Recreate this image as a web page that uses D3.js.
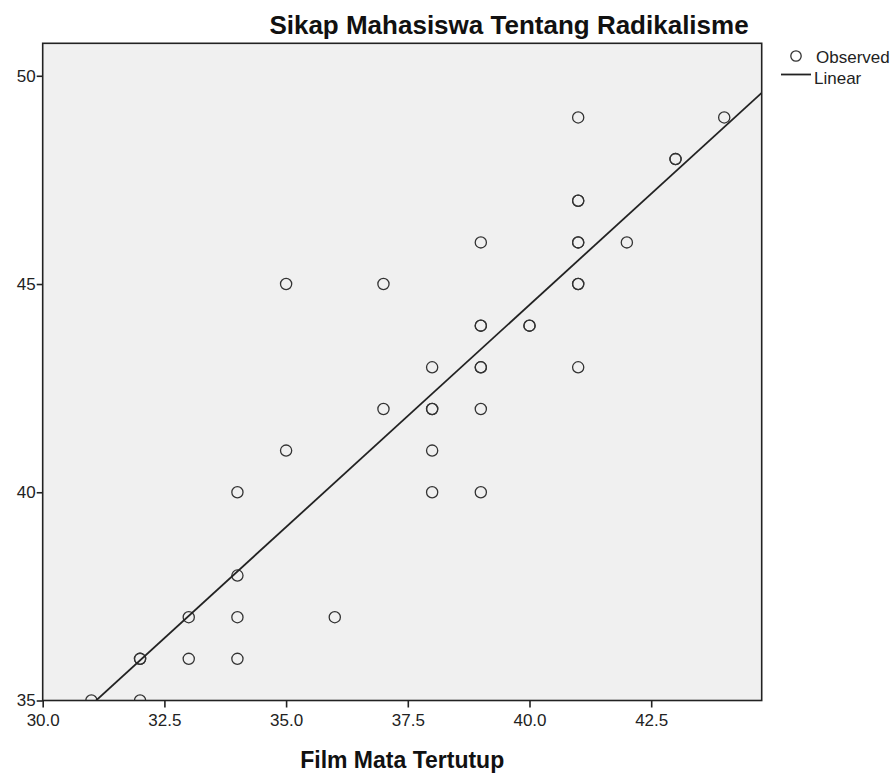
<!DOCTYPE html>
<html>
<head>
<meta charset="utf-8">
<script src="https://cdn.jsdelivr.net/npm/d3@7"></script>
<style>
  body { margin: 0; background: #fff; }
  svg { display: block; font-family: "Liberation Sans", Arial, sans-serif; }
</style>
</head>
<body>
<svg id="chart" width="896" height="776"></svg>
<script>
// observed cases (Film Mata Tertutup vs Sikap Mahasiswa Tentang Radikalisme)
// repeated pairs are cases that sit on top of each other
var filmX = [31, 32, 32, 32, 33, 34, 33, 34, 36, 34, 34, 35, 35, 37, 37,
             38, 38, 38, 38, 38, 39, 39, 39, 39, 39, 39, 39, 40, 40,
             41, 41, 41, 41, 41, 41, 41, 41, 42, 43, 43, 44];
var sikapY = [35, 35, 36, 36, 36, 36, 37, 37, 37, 38, 40, 41, 45, 45, 42,
              43, 42, 42, 41, 40, 46, 44, 44, 43, 43, 42, 40, 44, 44,
              49, 47, 47, 46, 46, 45, 45, 43, 46, 48, 48, 49];

// linear fit
var fitIntercept = 1.82;
var fitSlope = 1.067;

var xTicks = [30.0, 32.5, 35.0, 37.5, 40.0, 42.5];
var yTicks = [35, 40, 45, 50];
var xDomain = [30, 44.77];
var yDomain = [35, 50.78];

(function draw() {
  var svg = d3.select("#chart");
  var pLeft = 42.7, pRight = 761.7, pTop = 43.3, pBottom = 700.5;

  var x = d3.scaleLinear().domain(xDomain).range([pLeft, pRight]);
  var y = d3.scaleLinear().domain(yDomain).range([pBottom, pTop]);

  svg.append("defs").append("clipPath").attr("id", "plotClip")
    .append("rect")
      .attr("x", pLeft).attr("y", pTop)
      .attr("width", pRight - pLeft).attr("height", pBottom - pTop);

  svg.append("rect")
      .attr("x", pLeft).attr("y", pTop)
      .attr("width", pRight - pLeft).attr("height", pBottom - pTop)
      .style("fill", "#f0f0f0");

  var plot = svg.append("g").attr("clip-path", "url(#plotClip)");

  plot.selectAll("circle")
      .data(filmX.map(function(d, i) { return { x: d, y: sikapY[i] }; }))
    .enter().append("circle")
      .attr("cx", function(d) { return x(d.x); })
      .attr("cy", function(d) { return y(d.y); })
      .attr("r", 5.6)
      .style("fill", "none")
      .style("stroke", "#333")
      .style("stroke-width", 1.3);

  var x0 = xDomain[0], x1 = xDomain[1];
  plot.append("line")
      .attr("x1", x(x0)).attr("y1", y(fitIntercept + fitSlope * x0))
      .attr("x2", x(x1)).attr("y2", y(fitIntercept + fitSlope * x1))
      .style("stroke", "#222")
      .style("stroke-width", 1.8);

  // frame
  svg.append("rect")
      .attr("x", pLeft).attr("y", pTop)
      .attr("width", pRight - pLeft).attr("height", pBottom - pTop)
      .style("fill", "none")
      .style("stroke", "#222")
      .style("stroke-width", 1.6);

  var xAxis = svg.append("g")
      .attr("transform", "translate(0," + pBottom + ")")
      .call(d3.axisBottom(x).tickValues(xTicks).tickFormat(d3.format(".1f"))
        .tickSize(7).tickPadding(6));

  var yAxis = svg.append("g")
      .attr("transform", "translate(" + pLeft + ",0)")
      .call(d3.axisLeft(y).tickValues(yTicks).tickFormat(d3.format("d"))
        .tickSize(6).tickPadding(1));

  [xAxis, yAxis].forEach(function(a) {
    a.select(".domain").remove();
    a.selectAll(".tick line").style("stroke", "#222").style("stroke-width", 1.6);
    a.selectAll(".tick text")
        .style("font-family", "Liberation Sans, Arial, sans-serif")
        .style("font-size", "17px")
        .style("fill", "#222");
  });

  svg.append("text")
      .attr("x", 509).attr("y", 34)
      .attr("text-anchor", "middle")
      .style("font-size", "26px")
      .style("font-weight", "bold")
      .style("fill", "#111")
      .text("Sikap Mahasiswa Tentang Radikalisme");

  svg.append("text")
      .attr("x", (pLeft + pRight) / 2).attr("y", 768)
      .attr("text-anchor", "middle")
      .style("font-size", "23px")
      .style("font-weight", "bold")
      .style("fill", "#111")
      .text("Film Mata Tertutup");

  // legend
  var legend = svg.append("g");
  legend.append("circle")
      .attr("cx", 796).attr("cy", 56).attr("r", 5.2)
      .style("fill", "none").style("stroke", "#333").style("stroke-width", 1.3);
  legend.append("text")
      .attr("x", 816).attr("y", 63)
      .style("font-size", "17px").style("fill", "#222")
      .text("Observed");
  legend.append("line")
      .attr("x1", 781).attr("x2", 811).attr("y1", 74.5).attr("y2", 74.5)
      .style("stroke", "#222").style("stroke-width", 1.8);
  legend.append("text")
      .attr("x", 814).attr("y", 84)
      .style("font-size", "17px").style("fill", "#222")
      .text("Linear");
})();
</script>
</body>
</html>
